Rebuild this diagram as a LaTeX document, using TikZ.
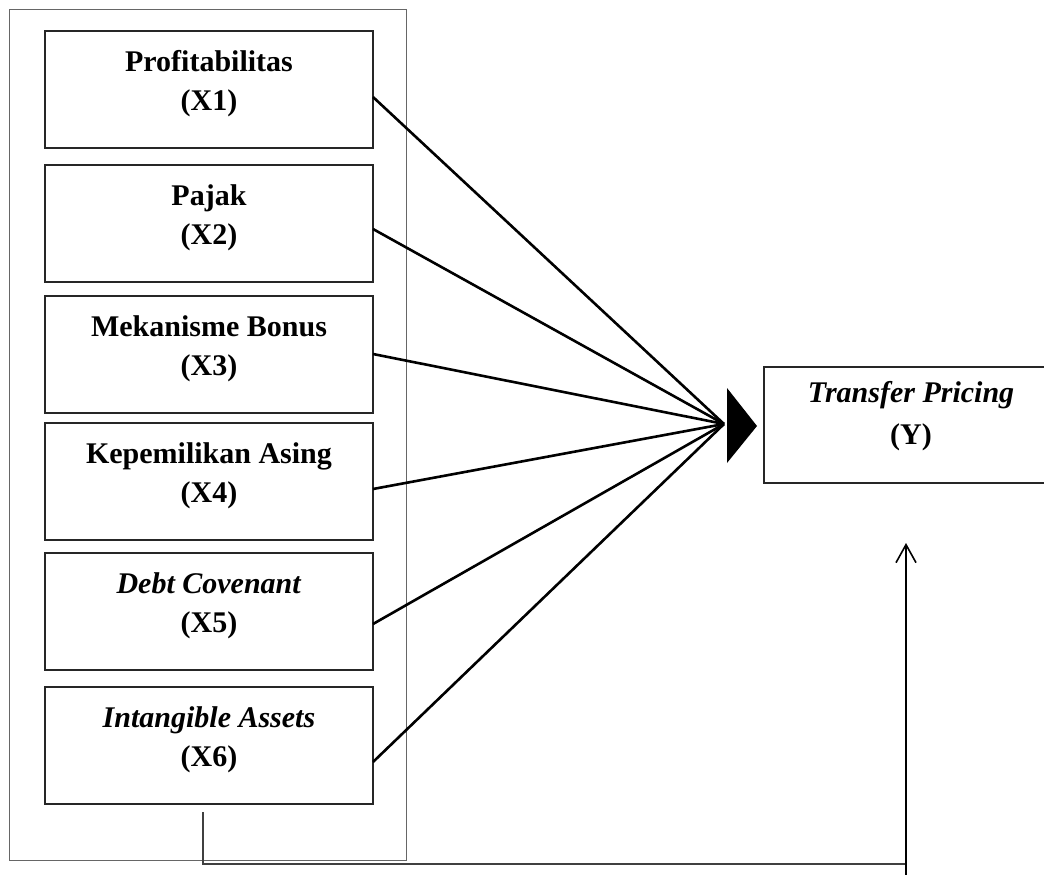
\documentclass[tikz,border=0pt]{standalone}
\usepackage{fontspec}
\setmainfont{Liberation Serif}
\usetikzlibrary{arrows.meta,calc}
\newcommand{\leftboxtext}[2]{\parbox[c][117pt][t]{328pt}{\centering\rule{0pt}{40pt}#1\\#2}}
\tikzset{
  box/.style={draw=black!85, line width=1.3pt, inner sep=0pt, outer sep=0pt, anchor=north west,
    font=\fontsize{30}{39}\selectfont\bfseries},
  ybox/.style={inner sep=0pt, outer sep=0pt, anchor=north west,
    font=\fontsize{30}{42}\selectfont\bfseries},
  frame/.style={draw=black!60, line width=1pt, inner sep=0pt, outer sep=0pt, anchor=north west,
    minimum width=397pt, minimum height=850pt},
  conn/.style={line width=2.6pt, black},
  boxline/.style={draw=black!85, line width=1.3pt},
  feed/.style={line width=1.6pt, black!75},
  upline/.style={line width=2.6pt, black}
}
\begin{document}
\begin{tikzpicture}[x=1pt,y=-1pt]
\useasboundingbox (0,0) rectangle (1044,875);
\fill[white] (0,0) rectangle (1044,875);

\node[frame] (outer) at (9,10) {};

\node[box] (X1) at (45,31)  {\leftboxtext{Profitabilitas}{(X1)}};
\node[box] (X2) at (45,165) {\leftboxtext{Pajak}{(X2)}};
\node[box] (X3) at (45,296) {\leftboxtext{Mekanisme Bonus}{(X3)}};
\node[box] (X4) at (45,423) {\leftboxtext{Kepemilikan Asing}{(X4)}};
\node[box] (X5) at (45,553) {\leftboxtext{\textit{Debt Covenant}}{(X5)}};
\node[box] (X6) at (45,687) {\leftboxtext{\textit{Intangible Assets}}{(X6)}};

\node[ybox] (Y) at (764,367) {\parbox[c][116pt][t]{294pt}{\centering\rule{0pt}{35pt}\textit{Transfer Pricing}\\(Y)}};
\draw[boxline] (Y.north west -| 1044,0) -- (Y.north west) -- (Y.south west) -- (Y.south west -| 1044,0);

\coordinate (hub) at (724,424);
\foreach \n/\yy in {X1/97,X2/229,X3/354,X4/489,X5/624,X6/762}
  \draw[conn] (\n.east |- 0,\yy) -- (hub);

\coordinate (headtop) at (727,388);
\coordinate (headtip) at (757,426);
\coordinate (headbot) at (727,463);
\fill[black] (headtop) -- (headtip) -- (headbot) -- cycle;

\coordinate (fstart) at (203,812);
\coordinate (fcorner) at (906,864);
\coordinate (ybot) at (906,875);
\coordinate (ytip) at (906,543);
\draw[feed] (fstart) |- (fcorner);
\draw[upline, -{Straight Barb[length=18pt,width=20pt,line width=1.6pt]}] (ybot) -- (ytip);
\end{tikzpicture}
\end{document}
